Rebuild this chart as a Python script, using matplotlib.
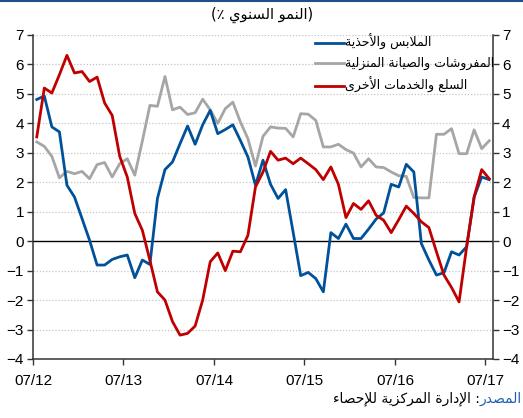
import matplotlib
matplotlib.use("Agg")
import matplotlib.pyplot as plt
from matplotlib.lines import Line2D
import numpy as np

# ---- data (annual growth %, monthly 07/12 .. 07/17) ----
tick_labels = ["07/12", "07/13", "07/14", "07/15", "07/16", "07/17"]

clothing = [4.81, 4.93, 3.88, 3.71, 1.90, 1.50, 0.77, 0.03, -0.81, -0.81,
            -0.62, -0.53, -0.47, -1.24, -0.64, -0.79, 1.45, 2.43, 2.69, 3.31,
            3.91, 3.29, 3.95, 4.44, 3.65, 3.79, 3.95, 3.42, 2.86, 1.90,
            2.75, 1.93, 1.45, 1.75, 0.30, -1.17, -1.06, -1.27, -1.72, 0.29,
            0.09, 0.58, 0.09, 0.09, 0.41, 0.75, 0.96, 1.93, 1.84, 2.61,
            2.35, -0.08, -0.64, -1.15, -1.07, -0.36, -0.47, -0.19, 1.50, 2.18,
            2.09]

furnishing = [3.37, 3.22, 2.88, 2.15, 2.37, 2.29, 2.37, 2.12, 2.60, 2.67,
              2.18, 2.63, 2.80, 2.24, 3.40, 4.61, 4.58, 5.59, 4.46, 4.55,
              4.30, 4.36, 4.82, 4.46, 4.00, 4.50, 4.72, 4.05, 3.48, 2.55,
              3.56, 3.88, 3.84, 3.83, 3.54, 4.33, 4.31, 4.10, 3.20, 3.20,
              3.29, 3.11, 2.99, 2.52, 2.80, 2.52, 2.50, 2.35, 2.22, 2.20,
              1.48, 1.47, 1.47, 3.63, 3.63, 3.82, 2.97, 2.97, 3.78, 3.14,
              3.41]

other = [3.54, 5.20, 5.03, 5.65, 6.31, 5.71, 5.76, 5.42, 5.57, 4.69,
         4.27, 2.88, 2.18, 0.94, 0.37, -0.65, -1.72, -2.00, -2.73, -3.19,
         -3.13, -2.88, -2.00, -0.70, -0.40, -1.00, -0.34, -0.36, 0.20, 1.84,
         2.35, 3.05, 2.75, 2.82, 2.63, 2.82, 2.63, 2.43, 2.09, 2.52,
         1.93, 0.80, 1.28, 1.08, 1.37, 0.88, 0.71, 0.29, 0.73, 1.19,
         0.94, 0.66, 0.46, -0.36, -1.15, -1.57, -2.06, -0.20, 1.50, 2.43,
         2.12]

title_txt = "(النمو السنوي ٪)"
legend_txt = ["الملابس والأحذية", "المفروشات والصيانة المنزلية", "السلع والخدمات الأخرى"]
source_lbl = "المصدر"
source_txt = ": الإدارة المركزية للإحصاء"

# ---- minimal arabic shaping (matplotlib has no bidi / joining) ----
DUAL = {'ب': 0xFE8F, 'ت': 0xFE95, 'ث': 0xFE99, 'ج': 0xFE9D, 'ح': 0xFEA1,
        'خ': 0xFEA5, 'س': 0xFEB1, 'ش': 0xFEB5, 'ص': 0xFEB9, 'ض': 0xFEBD,
        'ط': 0xFEC1, 'ظ': 0xFEC5, 'ع': 0xFEC9, 'غ': 0xFECD, 'ف': 0xFED1,
        'ق': 0xFED5, 'ك': 0xFED9, 'ل': 0xFEDD, 'م': 0xFEE1, 'ن': 0xFEE5,
        'ه': 0xFEE9, 'ي': 0xFEF1, 'ئ': 0xFE89}
RIGHT = {'آ': 0xFE81, 'أ': 0xFE83, 'ؤ': 0xFE85, 'إ': 0xFE87, 'ا': 0xFE8D,
         'ة': 0xFE93, 'د': 0xFEA9, 'ذ': 0xFEAB, 'ر': 0xFEAD, 'ز': 0xFEAF,
         'و': 0xFEED, 'ى': 0xFEEF,
         'لآ': 0xFEF5, 'لأ': 0xFEF7, 'لإ': 0xFEF9, 'لا': 0xFEFB}
NONJ = {'ء': 0xFE80}


def shape(s):
    toks = []
    k = 0
    while k < len(s):
        if s[k] == 'ل' and k + 1 < len(s) and s[k + 1] in 'اأإآ':
            toks.append(s[k:k + 2])
            k += 2
        else:
            toks.append(s[k])
            k += 1
    out = []
    for k, t in enumerate(toks):
        prev = toks[k - 1] if k > 0 else None
        nxt = toks[k + 1] if k + 1 < len(toks) else None
        if t in DUAL or t in RIGHT:
            jp = prev in DUAL
            jn = t in DUAL and (nxt in DUAL or nxt in RIGHT)
            base = DUAL.get(t, RIGHT.get(t))
            if jp and jn:
                out.append(chr(base + 3))
            elif jp:
                out.append(chr(base + 1))
            elif jn:
                out.append(chr(base + 2))
            else:
                out.append(chr(base))
        elif t in NONJ:
            out.append(chr(NONJ[t]))
        else:
            out.append(t)
    vis = "".join(out)[::-1]
    return vis.translate(str.maketrans("()", ")("))


plt.rcParams['font.family'] = ['Liberation Sans', 'DejaVu Sans']

W, H = 523, 418
fig = plt.figure(figsize=(W / 100, H / 100), dpi=100)
ax = fig.add_axes([33 / W, 1 - 359 / H, 460 / W, 324 / H])

x = np.arange(len(clothing)) + 0.5
blue, grey, red = '#00519A', '#A6A6A6', '#C00000'

for v in range(-3, 8):
    if v != 0:
        ax.axhline(v, color='#C4C4C4', lw=0.9, ls=(0, (1, 1.5)), zorder=1)
ax.axhline(0, color='black', lw=1.0, zorder=2)

ax.plot(x, furnishing, color=grey, lw=2.0, zorder=3)
ax.plot(x, clothing, color=blue, lw=2.0, zorder=4)
ax.plot(x, other, color=red, lw=2.0, zorder=5)

ax.set_xlim(0, len(clothing))
ax.set_ylim(-4, 7)
ax.set_xticks(np.arange(len(tick_labels)) * 12)
ax.set_xticklabels(tick_labels)
ax.set_yticks(range(-4, 8))
ax.tick_params(axis='both', labelsize=11, length=4.5, width=1, color='#333333')
ax.tick_params(axis='y', left=True, right=True, labelleft=True, labelright=True, pad=2)
ax.tick_params(axis='x', pad=6)
ax.spines['top'].set_visible(False)
for s in ('left', 'right', 'bottom'):
    ax.spines[s].set_color('#333333')
    ax.spines[s].set_linewidth(1.1)

handles = [Line2D([], [], color=c, lw=2.0) for c in (blue, grey, red)]
ax.legend(handles, [shape(t) for t in legend_txt], loc='upper left',
          bbox_to_anchor=(315 / W, 1 - 34 / H), bbox_transform=fig.transFigure,
          frameon=False, handlelength=2.3, handletextpad=0.1,
          labelspacing=0.55, borderpad=0, borderaxespad=0,
          prop={'family': 'DejaVu Sans', 'size': 9.0})

fig.text(262 / W, 1 - 15 / H, shape(title_txt), ha='center', va='center',
         fontsize=10.5, family='DejaVu Sans')

# top border line
fig.add_artist(Line2D([0, 1], [1 - 0.8 / H, 1 - 0.8 / H], transform=fig.transFigure,
                      color='#1F4E8C', lw=1.5))

src = fig.text(522 / W, 1 - 399 / H, shape(source_lbl), ha='right', va='center',
               fontsize=10, family='DejaVu Sans', color='#1F5FAF')
ax.annotate(shape(source_txt), xy=(0, 0.5), xycoords=src, ha='right', va='center',
            fontsize=10, family='DejaVu Sans', color='black', annotation_clip=False)

fig.savefig('out.png', dpi=100)
